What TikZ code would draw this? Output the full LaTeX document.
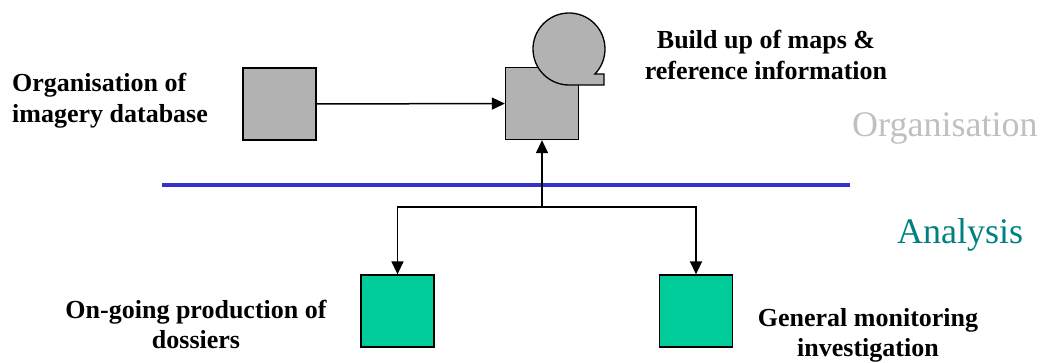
\documentclass[tikz,border=0pt]{standalone}
\usepackage{fontspec}
\setmainfont{Liberation Serif}
\usetikzlibrary{arrows.meta}
\definecolor{boxgray}{HTML}{B2B2B2}
\definecolor{boxgreen}{HTML}{00CC99}
\definecolor{divblue}{HTML}{3333CC}
\definecolor{orggray}{HTML}{C0C0C0}
\definecolor{anateal}{HTML}{008080}
\begin{document}
\begin{tikzpicture}[x=1pt,y=-1pt,
  box/.style={draw=black, line width=1.3pt, minimum width=73pt, minimum height=72pt, inner sep=0pt},
  graybox/.style={box, fill=boxgray},
  greenbox/.style={box, fill=boxgreen},
  conn/.style={line width=1.5pt, -{Triangle[length=13pt,width=12pt]}},
  caption/.style={font=\fontsize{26}{31}\selectfont\bfseries, inner sep=0pt},
  phase/.style={font=\fontsize{36}{40}\selectfont, inner sep=0pt, anchor=base west}]
\useasboundingbox (0,0) rectangle (1042,363);

% boxes
\node[graybox] (imagery) at (279.5,104) {};
\node[graybox] (maps) at (542,103.5) {};
\node[greenbox] (dossiers) at (397.5,311) {};
\node[greenbox] (monitor) at (696,311) {};

% tape storage symbol on top of the maps box
\coordinate (tapec) at (569,49);
\draw[line width=1.3pt, fill=boxgray] (tapec) ++(44:36)
  arc[start angle=44, end angle=-270, radius=36]
  -- ++(35,0) -- ++(0,-11) -- cycle;

% divider between the two phases
\coordinate (divL) at (162,185);
\coordinate (divR) at (850,185);
\draw[divblue, line width=4pt] (divL) -- (divR);

% connectors
\coordinate (junction) at (542,207);
\draw[conn] (imagery) -- (maps);
\draw[conn] (junction) -- (maps.south);
\draw[conn] (junction) -| (dossiers.north);
\draw[conn] (junction) -| (monitor.north);

% labels (anchored at the baseline of their last line)
\node[caption, align=left, anchor=base west] (lblimg) at (12,123) {Organisation of\\imagery database};
\node[caption, align=center, anchor=base] (lblmaps) at (766,80) {Build up of maps \&\\reference information};
\node[caption, align=center, anchor=base] (lbldos) at (196,349) {On-going production of\\dossiers};
\node[caption, align=center, anchor=base] (lblmon) at (868,357) {General monitoring\\investigation};

\node[phase, text=orggray] (orgphase) at (852,137) {Organisation};
\node[phase, text=anateal] (anaphase) at (897,244) {Analysis};
\end{tikzpicture}
\end{document}
